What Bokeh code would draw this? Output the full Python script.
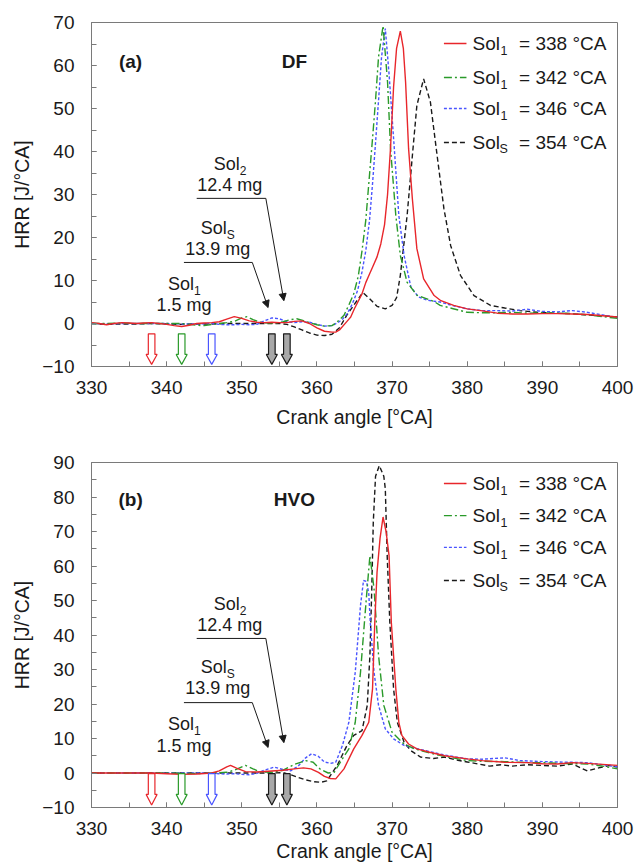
from bokeh.plotting import figure
from bokeh.layouts import column
from bokeh.models import Range1d, SingleIntervalTicker, Arrow, NormalHead
from bokeh.core.properties import value
from bokeh.embed import file_html
from bokeh.resources import INLINE

FONT = "Liberation Sans"

# ---------------- data: (a) DF ----------------
df_ca_338 = [330, 331, 332, 333, 334, 335, 336, 337, 338, 339, 340, 341, 342, 343, 344, 345, 346, 347, 348, 349,
             350, 351, 352, 353, 354, 355, 356, 357, 358, 359, 360, 361, 362, 362.5, 363, 364, 364.5, 365, 366,
             366.5, 367, 367.4, 368, 368.5, 369.0, 369.4, 369.8, 370.2, 370.6, 371.1, 371.5, 371.8, 372.2, 372.7,
             373.3, 374.2, 375.6, 376.5, 378.2, 380, 381.8, 384, 386, 388, 390, 392, 394, 396, 398, 400]
df_hrr_338 = [0.2, 0, -0.3, 0, 0.2, 0.1, 0, 0.1, 0.2, 0, -0.2, -0.5, -0.7, -0.4, 0, 0.1, 0.2, 0.4, 1.0, 1.6,
              1.2, 0.6, 0.3, 0.2, 0.3, 0.2, 0.2, 0.5, 0.6, 0, -1.0, -1.8, -2.0, -2.0, -1.5, 0.5, 1.5, 3.5, 6.9,
              9.5, 11.5, 13.1, 15.5, 18.5, 23, 30, 41, 55, 64, 68, 64, 56.1, 40.6, 29,
              17.4, 10.4, 6.5, 5.3, 4.2, 3.4, 3.0, 2.4, 2.2, 2.2, 2.3, 2.3, 2.2, 2.1, 1.8, 1.5]

df_ca_342 = [330, 332, 334, 336, 338, 340, 342, 343, 344, 345, 346, 347, 348, 349, 350, 350.7, 351.5, 352.5, 353.5,
             354.5, 355.5, 356.5, 357.3, 358, 359, 360, 361, 362, 362.6, 363.6, 364.3, 364.9, 365.5, 366.0, 366.5,
             366.9, 367.4, 367.8, 368.2, 368.8, 369.4, 369.8, 370.5, 371.1, 372.0, 373.3, 375.6, 376.4, 378, 380,
             382, 384, 386, 388, 390, 392, 394, 396, 398, 400]
df_hrr_342 = [0, 0, 0.1, 0, 0, 0, 0, -0.2, -0.4, -0.5, -0.2, 0, 0.2, 0.5, 1.3, 1.6, 0.9, 0.3, 0.1,
              0.1, 0.4, 0.9, 1.1, 0.8, 0.2, -0.3, -0.6, -0.5, 0.2, 1.9, 4.5, 6.9, 11, 16.9, 24,
              32.5, 43, 51.9, 62, 69.2, 56.1, 40.6, 25.1, 15.8, 9.6, 6.6, 5.1, 4.2, 3.5, 2.6,
              2.5, 2.5, 2.6, 2.4, 2.5, 2.4, 2.3, 2.0, 1.6, 1.2]

df_ca_346 = [330, 332, 334, 336, 338, 340, 342, 344, 346, 347, 348, 349, 350, 351, 352, 353, 354, 355, 356, 357,
             358, 359, 360, 361, 362, 362.8, 363.4, 364.0, 364.7, 365.4, 366.0, 366.5, 367.0, 367.4, 367.8, 368.2,
             368.6, 369.1, 369.6, 370.3, 370.9, 371.6, 372.5, 373.5, 374.7, 376.4, 378, 380, 382, 384, 386, 388,
             390, 392, 394, 396, 398, 400]
df_hrr_346 = [0, -0.1, 0, 0, 0, 0, -0.1, -0.1, 0, -0.2, -0.3, -0.3, -0.2, -0.3, -0.2, 0.6, 1.3, 1.1, 0.4, 0.2,
              0.4, 0.3, -0.2, -0.6, -0.5, 0.2, 1.0, 2.2, 4.5, 7.6, 12, 16.9, 24, 32.5, 42, 51.9,
              62, 68.6, 58, 40.6, 25.1, 15.8, 8.5, 6.2, 5.4, 5.0, 4.2, 3.4, 3.0, 3.0, 2.9, 3.3,
              2.8, 2.7, 3.0, 2.6, 2.0, 1.4]

df_ca_354 = [330, 332, 334, 336, 338, 340, 342, 344, 346, 348, 350, 352, 354, 355, 356, 357, 358, 359, 360, 361,
             362, 363, 364, 365, 366.1, 367, 368, 369.1, 370.0, 370.6, 371.1, 372.0, 372.7, 373.3, 374.2, 375.1,
             376.0, 376.9, 377.8, 379.1, 380.9, 383.1, 385, 387, 389.3, 391.5, 393.7, 396, 398, 400]
df_hrr_354 = [0, -0.2, -0.1, -0.1, 0, -0.1, -0.2, -0.1, -0.1, 0, 0, 0, 0, 0, -0.2, -0.8, -1.5, -2.2, -2.7, -2.8,
              -2.5, -1.0, 2.0, 4.5, 7.2, 5.8, 4.0, 3.4, 4.2, 6.0, 11.2, 25.1, 39, 50.7, 56.9, 51.5,
              39, 26.7, 18.1, 11.2, 6.5, 4.2, 3.6, 3.0, 2.6, 2.4, 2.3, 2.0, 1.8, 1.5]

# ---------------- data: (b) HVO ----------------
hvo_ca_338 = [330, 332, 334, 336, 338, 340, 342, 344, 346, 347, 348, 348.5, 349.3, 350.5, 352, 354, 355.5, 357,
              358.2, 359.2, 360.2, 361, 361.8, 362.5, 363.6, 364.9, 366.0, 366.9, 367.4, 367.7, 368.0, 368.4,
              368.8, 369.2, 369.6, 369.9, 370.5, 370.9, 371.3, 372.2, 373.3, 375, 377, 380, 382, 385, 388, 390,
              392, 394, 396, 398, 400]
hvo_hrr_338 = [0, 0, 0, 0, 0, -0.2, -0.4, -0.3, 0, 0.6, 1.8, 2.2, 1.4, 0.4, 0.3, 0.6, 0.8, 1.2,
               1.5, 1.2, 0.2, -1.0, -1.6, -1.7, 1.2, 7, 10.9, 14.7, 24.4, 43.7, 58.2, 68,
               74.2, 70, 63, 43.7, 24.4, 14.7, 10.9, 8.4, 7.0, 6.0, 5.0, 4.1, 3.6, 3.1, 3.0, 2.7,
               2.6, 3.0, 2.8, 2.5, 2.2]

hvo_ca_342 = [330, 332, 334, 336, 338, 340, 342, 344, 346, 348, 349, 350.5, 351.5, 352.5, 354, 355.5, 357, 358.5,
              359.5, 360.5, 361.5, 362.3, 363.1, 364.25, 365.1, 365.8, 366.5, 367.05, 367.6, 368.2, 368.9, 370.0,
              371.6, 373, 375, 377, 380, 382, 385, 388, 390, 392, 394, 396, 398, 400]
hvo_hrr_342 = [0, 0, 0, 0, 0, 0, -0.1, -0.2, 0, 0.2, 0.8, 2.2, 1.2, 0.3, 0.2, 0.8, 2.5, 3.6,
               3.1, 1.0, 0.0, 0.2, 3.1, 7, 14.7, 29.2, 48.6, 63, 53.4, 34.1, 19.6, 11.8,
               8.4, 7, 5.8, 4.8, 3.6, 3.4, 3.3, 3.0, 3.0, 2.8, 2.7, 2.6, 2.0, 1.2]

hvo_ca_346 = [330, 332, 334, 336, 338, 340, 342, 344, 346, 347, 348, 349, 350, 351, 352, 353, 354.3, 355.5, 356.5,
              357.5, 358.5, 359.3, 360.2, 361, 361.8, 362.5, 363.4, 364.25, 365.1, 365.8, 366.2, 366.6, 366.9,
              367.1, 367.6, 368.2, 369.1, 370.2, 371.6, 373, 375, 377, 380, 382, 385, 387, 390, 392, 394, 396,
              398, 400]
hvo_hrr_346 = [0, 0, 0, 0, 0, 0, 0, 0, 0, -0.2, -0.3, -0.2, -0.4, -0.5, -0.1, 0.8, 1.7, 1.0, 0.6,
               2.0, 4.4, 5.6, 4.8, 3.2, 2.8, 3.1, 8, 14.7, 29.2, 48.6, 55.8, 55.5, 52,
               43.7, 29.2, 19.6, 12.8, 9.9, 8.0, 7.2, 6.2, 5.2, 4.1, 4.0, 4.4, 3.6, 3.3, 3.2, 3.1, 3.0,
               2.4, 1.8]

hvo_ca_354 = [330, 332, 334, 336, 338, 340, 342, 344, 346, 348, 350, 352, 354, 355.5, 356.5, 357.5, 358.5, 359.5,
              360.5, 361.3, 361.8, 362.7, 364.0, 364.9, 366.0, 366.7, 367.05, 367.3, 367.5, 367.8, 368.3, 368.9,
              369.1, 369.35, 369.7, 370.2, 370.7, 371.6, 372.5, 373.8, 375.5, 377, 378.5, 380, 381.5, 383, 384.5,
              386, 388, 390, 392, 394, 396, 397.5, 399, 400]
hvo_hrr_354 = [0, 0, 0, 0, 0, 0, 0, 0, 0, 0, 0, 0, 0, 0.1, -0.5, -1.3, -2.0, -2.5,
               -2.7, -2.3, -0.7, 2.2, 8, 10.9, 12.3, 19.6, 34.1, 53.4, 72.7, 86, 89.1, 86,
               82.4, 63, 43.7, 24.4, 14.7, 8.9, 6.5, 4.6, 4.2, 4.6, 3.8, 3.2, 2.6, 2.0, 2.4,
               2.0, 2.4, 2.2, 2.0, 2.6, 0.6, 1.5, 2.2, 1.7]

# injection timings (arrows) and their colours
inj_ca = [338, 342, 346, 354, 356]
inj_line = ["#e8262b", "#2a9a2a", "#4a55ff", "#1a1a1a", "#1a1a1a"]
inj_fill = ["white", "white", "white", "#a8a8a8", "#a8a8a8"]

# legend entries
leg_main = ["Sol", "Sol", "Sol", "Sol"]
leg_sub = ["1", "1", "1", "S"]
leg_rest = ["= 338 °CA", "= 342 °CA", "= 346 °CA", "= 354 °CA"]
series_color = ["#e8262b", "#2a9a2a", "#4a55ff", "#1a1a1a"]
series_dash = ["solid", "8 3 2 3", "3 2", "5 3"]

x_ticks_interval = 10
TXT = "#1a1a1a"


def sub_text(p, x, y, main, sub, size=18, sub_size=12, dx_main=0, align="left", sub_dx=27, sub_dy=7):
    p.text(x=[x], y=[y], text=[main], text_font=value(FONT), text_font_size=f"{size}px",
           text_color=TXT, text_align=align, text_baseline="middle", x_offset=dx_main)
    p.text(x=[x], y=[y], text=[sub], text_font=value(FONT), text_font_size=f"{sub_size}px",
           text_color=TXT, text_align="left", text_baseline="middle",
           x_offset=dx_main + sub_dx, y_offset=sub_dy)


def make_plot(ymin, ymax, fheight, border_top, border_bottom, series, arrow_y, leg_y,
              panel, fuel, panel_y, ann, xlabel_standoff):
    p = figure(frame_width=526, frame_height=fheight, output_backend="svg", toolbar_location=None,
               x_range=Range1d(330, 400), y_range=Range1d(ymin, ymax),
               min_border_left=91, min_border_right=18, min_border_top=border_top,
               min_border_bottom=border_bottom)
    p.xgrid.visible = False
    p.ygrid.visible = False
    p.outline_line_color = "#7a7a7a"
    p.outline_line_width = 1
    p.background_fill_color = "white"
    p.border_fill_color = "white"

    for ax in (p.xaxis[0], p.yaxis[0]):
        ax.ticker = SingleIntervalTicker(interval=x_ticks_interval, num_minor_ticks=2)
        ax.axis_line_color = "#7a7a7a"
        ax.major_tick_line_color = "#7a7a7a"
        ax.minor_tick_line_color = "#7a7a7a"
        ax.major_tick_in = 5
        ax.major_tick_out = 0
        ax.minor_tick_in = 5
        ax.minor_tick_out = 0
        ax.major_label_text_font = FONT
        ax.major_label_text_font_size = "19px"
        ax.major_label_text_color = TXT
        ax.axis_label_text_font = FONT
        ax.axis_label_text_font_size = "19.5px"
        ax.axis_label_text_font_style = "normal"
        ax.axis_label_text_color = TXT
    p.xaxis.axis_label = "Crank angle [°CA]"
    p.yaxis.axis_label = "HRR [J/°CA]"
    p.xaxis.major_label_standoff = 14
    p.xaxis.axis_label_standoff = xlabel_standoff
    p.yaxis.major_label_standoff = 17
    p.yaxis.axis_label_standoff = 6

    # curves: draw black first, then blue, green, red on top
    order = [3, 2, 1, 0]
    for i in order:
        xs, ys = series[i]
        p.line(xs, ys, line_color=series_color[i], line_width=1.4, line_dash=series_dash[i])

    # injection arrows (hollow block arrows), built from inj_ca
    dxp = 70 / 526.0
    y0, yh, y1 = arrow_y
    sw, hw = 3.3 * dxp, 5.5 * dxp
    xs_all, ys_all = [], []
    for c in inj_ca:
        xs_all.append([c - sw, c + sw, c + sw, c + hw, c, c - hw, c - sw])
        ys_all.append([y0, y0, yh, yh, y1, yh, yh])
    p.patches(xs_all, ys_all, fill_color=inj_fill, line_color=inj_line, line_width=1.2)

    # legend (manual, to allow subscripts)
    for i in range(4):
        ly = leg_y[i]
        p.line([376.9, 379.9], [ly, ly], line_color=series_color[i], line_width=1.4,
               line_dash=series_dash[i])
        sub_text(p, 380.7, ly, leg_main[i], leg_sub[i], size=19, sub_size=12.5,
                 sub_dx=28 if leg_sub[i] == "1" else 27)
        p.text(x=[386.9], y=[ly], text=[leg_rest[i]], text_font=value(FONT), text_font_size="19px",
               text_color=TXT, text_align="left", text_baseline="middle")

    # panel label and fuel name
    p.text(x=[335.2], y=[panel_y], text=[panel], text_font=value(FONT), text_font_size="19px",
           text_font_style="bold", text_color=TXT, text_align="center", text_baseline="middle")
    p.text(x=[357.0], y=[panel_y], text=[fuel], text_font=value(FONT), text_font_size="19px",
           text_font_style="bold", text_color=TXT, text_align="center", text_baseline="middle")

    # injection annotations
    (s1x, s1y, m1y), (ssx, ssy, msy, hs_y, tip_s), (s2x, s2y, m2y, h2_y, tip_2) = ann
    sub_text(p, s1x, s1y, "Sol", "1", dx_main=-16, sub_dx=26)
    p.text(x=[s1x], y=[m1y], text=["1.5 mg"], text_font=value(FONT), text_font_size="18px",
           text_color=TXT, text_align="center", text_baseline="middle")
    sub_text(p, ssx, ssy, "Sol", "S", dx_main=-17, sub_dx=26)
    p.text(x=[ssx], y=[msy], text=["13.9 mg"], text_font=value(FONT), text_font_size="18px",
           text_color=TXT, text_align="center", text_baseline="middle")
    sub_text(p, s2x, s2y, "Sol", "2", dx_main=-16, sub_dx=26)
    p.text(x=[s2x], y=[m2y], text=["12.4 mg"], text_font=value(FONT), text_font_size="18px",
           text_color=TXT, text_align="center", text_baseline="middle")

    p.segment(x0=[342.3, 344.0], y0=[hs_y, h2_y], x1=[351.4, 353.2], y1=[hs_y, h2_y],
              line_color=TXT, line_width=1)
    p.add_layout(Arrow(x_start=351.4, y_start=hs_y, x_end=353.5, y_end=tip_s, line_width=1,
                       line_color=TXT,
                       end=NormalHead(size=7, fill_color=TXT, line_color=TXT)))
    p.add_layout(Arrow(x_start=353.2, y_start=h2_y, x_end=355.6, y_end=tip_2, line_width=1,
                       line_color=TXT,
                       end=NormalHead(size=7, fill_color=TXT, line_color=TXT)))
    return p


df_series = [(df_ca_338, df_hrr_338), (df_ca_342, df_hrr_342), (df_ca_346, df_hrr_346), (df_ca_354, df_hrr_354)]
hvo_series = [(hvo_ca_338, hvo_hrr_338), (hvo_ca_342, hvo_hrr_342), (hvo_ca_346, hvo_hrr_346),
              (hvo_ca_354, hvo_hrr_354)]

p1 = make_plot(-10, 70, 344, 22, 74, df_series, (-2.4, -7.2, -9.5), [65.1, 57.2, 50.0, 42.1],
               "(a)", "DF", 61,
               ((342.3, 9.3, 4.2), (346.8, 22.3, 17.4, 14.2, 3.7), (348.4, 37.2, 32.1, 29.1, 5.3)), 9)
p2 = make_plot(-10, 90, 345, 22, 59, hvo_series, (-0.2, -6.2, -9.3), [83.9, 74.6, 65.4, 55.8],
               "(b)", "HVO", 79.3,
               ((342.3, 14.3, 7.7), (346.8, 30.6, 24.5, 20.4, 7.4), (348.4, 49.1, 42.8, 39.0, 8.8)), 2)

layout = column(p1, p2, spacing=0)
open("out.html", "w").write(file_html(layout, INLINE))
